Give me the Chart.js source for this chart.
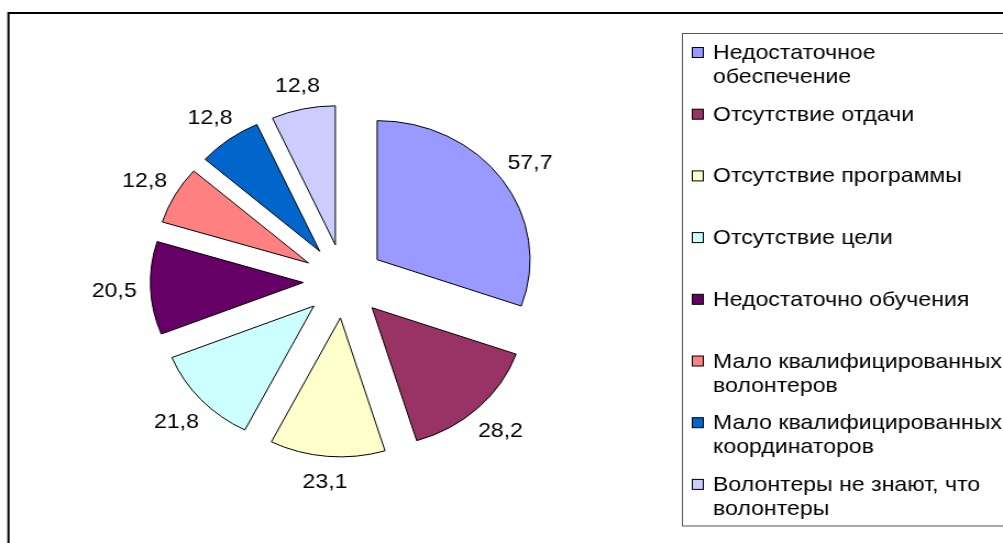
<!DOCTYPE html>
<html><head><meta charset="utf-8">
<script src="https://cdn.jsdelivr.net/npm/chart.js@4.4.1/dist/chart.umd.min.js"></script>
<style>
html,body{margin:0;padding:0;background:#fff;overflow:hidden}
#c{display:block;width:1003px !important;height:543px !important}
</style>
</head><body>
<canvas id="c" width="912" height="543" style="width:1003px;height:543px"></canvas>
<script>
// ---- data ----
const categories = [
  ['Недостаточное', 'обеспечение'],
  'Отсутствие отдачи',
  'Отсутствие программы',
  'Отсутствие цели',
  'Недостаточно обучения',
  ['Мало квалифицированных', 'волонтеров'],
  ['Мало квалифицированных', 'координаторов'],
  ['Волонтеры не знают, что', 'волонтеры']
];
const values = [57.7, 28.2, 23.1, 21.8, 20.5, 12.8, 12.8, 12.8];
const colors = ['#9999FF', '#993366', '#FFFFCC', '#CCFFFF', '#660066', '#FF8080', '#0066CC', '#CCCCFF'];

// ---- style ----
const FONT = '21px "Liberation Sans", Arial, sans-serif';
const EXPLODE = 37;

const fmt = v => String(v).replace('.', ',');

const explodePlugin = {
  id: 'explode',
  beforeDatasetsDraw(chart) {
    chart.getDatasetMeta(0).data.forEach(a => {
      const mid = (a.startAngle + a.endAngle) / 2;
      a._ox = a.x; a._oy = a.y;
      a.x += Math.cos(mid) * EXPLODE;
      a.y += Math.sin(mid) * EXPLODE;
    });
  },
  afterDatasetsDraw(chart) {
    const ctx = chart.ctx;
    const meta = chart.getDatasetMeta(0);
    ctx.save();
    ctx.font = FONT;
    ctx.fillStyle = '#000';
    ctx.textAlign = 'center';
    ctx.textBaseline = 'alphabetic';
    meta.data.forEach((a, i) => {
      const mid = (a.startAngle + a.endAngle) / 2;
      const r = a.outerRadius + 23 + 10 * Math.abs(Math.cos(mid));
      const x = a.x + Math.cos(mid) * r;
      const y = a.y + Math.sin(mid) * r;
      ctx.fillText(fmt(chart.data.datasets[0].data[i]), x, y + 7.5);
    });
    ctx.restore();
    meta.data.forEach(a => { a.x = a._ox; a.y = a._oy; });
  },
  afterDraw(chart) {
    const ctx = chart.ctx;
    ctx.save();
    // outer chart border
    ctx.strokeStyle = '#000';
    ctx.lineWidth = 2;
    ctx.strokeRect(7.7, 13, 2000, 2000);
    // legend box
    ctx.lineWidth = 1;
    ctx.strokeStyle = '#555';
    ctx.strokeRect(620.5, 33.5, 400, 492.5);
    // legend items
    ctx.font = FONT;
    ctx.textAlign = 'left';
    ctx.textBaseline = 'alphabetic';
    chart.data.labels.forEach((lab, i) => {
      const bl = 59 + 61.7 * i;
      ctx.fillStyle = colors[i];
      ctx.fillRect(629.5, bl - 11.5, 10, 10);
      ctx.strokeStyle = '#000';
      ctx.strokeRect(629.5, bl - 11.5, 10, 10);
      ctx.fillStyle = '#000';
      const lines = Array.isArray(lab) ? lab : [lab];
      lines.forEach((t, k) => ctx.fillText(t, 648.3, bl + 24 * k));
    });
    ctx.restore();
  }
};

new Chart(document.getElementById('c'), {
  type: 'pie',
  data: {
    labels: categories,
    datasets: [{
      data: values,
      backgroundColor: colors,
      borderColor: '#000',
      borderWidth: 1,
      borderJoinStyle: 'miter'
    }]
  },
  options: {
    responsive: false,
    animation: false,
    radius: 139,
    layout: { padding: { left: 20, right: 306.6, top: 19, bottom: 0 } },
    plugins: {
      legend: { display: false },
      tooltip: { enabled: false }
    },
    events: []
  },
  plugins: [explodePlugin]
});
</script>
</body></html>
